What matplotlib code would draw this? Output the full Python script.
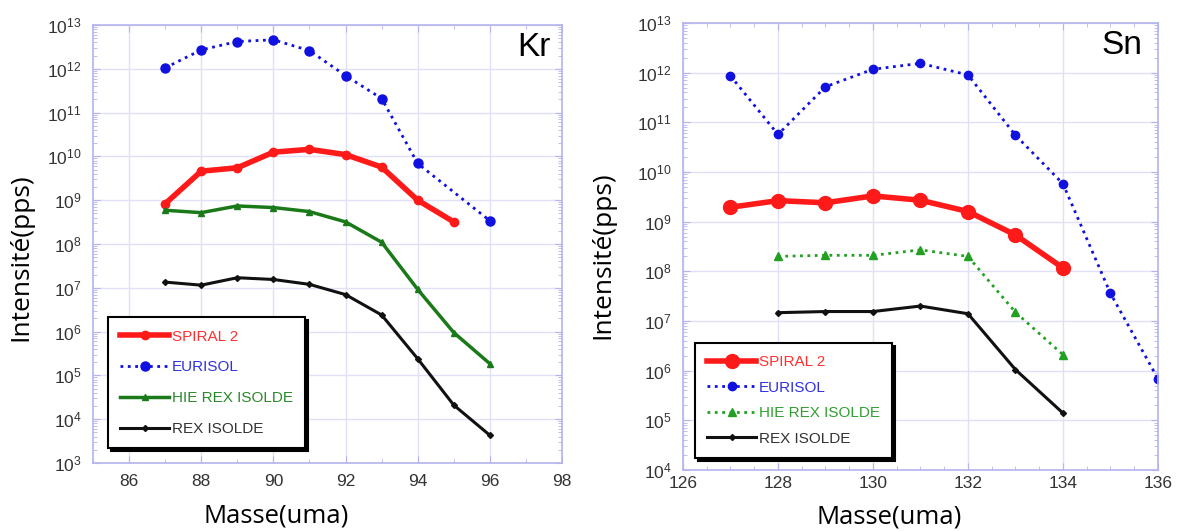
import matplotlib.pyplot as plt
import matplotlib.ticker as mticker
import numpy as np

plt.rcParams['font.family'] = ['Liberation Sans', 'DejaVu Sans']
plt.rcParams['mathtext.default'] = 'regular'

# Kr
kr_mass = [87, 88, 89, 90, 91, 92, 93, 94, 95, 96]
kr_spiral = [8.3e8, 4.6e9, 5.5e9, 1.25e10, 1.45e10, 1.1e10, 5.7e9, 1.0e9, 3.2e8]
kr_eurisol_mass = [87, 88, 89, 90, 91, 92, 93, 94, 96]
kr_eurisol = [1.05e12, 2.7e12, 4.2e12, 4.6e12, 2.6e12, 7.0e11, 2.1e11, 6.9e9, 3.4e8]
kr_hie = [5.9e8, 5.2e8, 7.4e8, 6.8e8, 5.5e8, 3.2e8, 1.1e8, 9.2e6, 9.5e5, 1.85e5]
kr_rex = [1.35e7, 1.15e7, 1.7e7, 1.55e7, 1.2e7, 7.0e6, 2.4e6, 2.4e5, 2.1e4, 4.3e3]

# Sn
sn_spiral_mass = [127, 128, 129, 130, 131, 132, 133, 134]
sn_spiral = [1.95e9, 2.65e9, 2.4e9, 3.3e9, 2.7e9, 1.6e9, 5.4e8, 1.17e8]
sn_eurisol_mass = [127, 128, 129, 130, 131, 132, 133, 134, 135, 136]
sn_eurisol = [8.6e11, 5.7e10, 5.2e11, 1.17e12, 1.54e12, 9.0e11, 5.5e10, 5.8e9, 3.6e7, 6.9e5]
sn_mass = [128, 129, 130, 131, 132, 133, 134]
sn_hie = [2.0e8, 2.1e8, 2.1e8, 2.7e8, 2.0e8, 1.5e7, 2.1e6]
sn_rex = [1.47e7, 1.55e7, 1.55e7, 2.0e7, 1.4e7, 1.05e6, 1.4e5]

labels = ['SPIRAL 2', 'EURISOL', 'HIE REX ISOLDE', 'REX ISOLDE']
colors = ['#ff1a1a', '#1010e0', '#1a7a1a', '#111111']
frame_col = '#b4b4ee'
grid_col = '#e0e0f6'
label_font = ['Open Sans', 'DejaVu Sans']

fig = plt.figure(figsize=(11.8, 5.31), dpi=100)
ax1 = fig.add_axes([0.0788, 0.128, 0.3975, 0.8249])
ax2 = fig.add_axes([0.5788, 0.1149, 0.4025, 0.8418])


def style(ax, xmin, xmax, xmajor, xminor, ymin, ymax, pad):
    ax.set_yscale('log')
    ax.set_xlim(xmin, xmax)
    ax.set_ylim(ymin, ymax)
    ax.xaxis.set_major_locator(mticker.MultipleLocator(xmajor))
    ax.xaxis.set_minor_locator(mticker.MultipleLocator(xminor))
    ax.yaxis.set_major_locator(mticker.LogLocator(base=10, numticks=20))
    ax.yaxis.set_minor_locator(mticker.LogLocator(base=10, subs=np.arange(2, 10), numticks=20))
    ax.yaxis.set_minor_formatter(mticker.NullFormatter())
    ax.grid(True, which='major', color=grid_col, lw=1.0)
    for s in ax.spines.values():
        s.set_color(frame_col)
        s.set_linewidth(1.2)
    ax.tick_params(which='both', direction='in', top=True, right=True, color=frame_col,
                   labelcolor='#333333', labelsize=12.5)
    ax.tick_params(axis='x', pad=pad)
    ax.tick_params(axis='y', pad=8)
    ax.tick_params(which='major', length=5)
    ax.tick_params(which='minor', length=3)
    ax.set_xlabel('Masse(uma)', fontsize=18.5, family=label_font)
    ax.set_ylabel('Intensité(pps)', fontsize=19, family=label_font)
    ax.xaxis.label.set_va('center')
    ax.yaxis.label.set_va('center')
    ax.set_axisbelow(True)


style(ax1, 85, 98, 2, 1, 1e3, 1e13, 8)
style(ax2, 126, 136, 2, 0.5, 1e4, 1e13, 4)
ax1.xaxis.set_label_coords(0.39, -0.121)
ax1.yaxis.set_label_coords(-0.154, 0.47)
ax2.xaxis.set_label_coords(0.434, -0.105)
ax2.yaxis.set_label_coords(-0.168, 0.48)

# Kr panel
ax1.plot(kr_mass[:9], kr_spiral, color=colors[0], lw=4, marker='o', ms=6, label=labels[0])
ax1.plot(kr_eurisol_mass, kr_eurisol, color=colors[1], lw=2, ls=':', marker='o', ms=6.5, label=labels[1])
ax1.plot(kr_mass, kr_hie, color=colors[2], lw=2.5, marker='^', ms=5, label=labels[2])
ax1.plot(kr_mass, kr_rex, color=colors[3], lw=2.2, marker='D', ms=3, label=labels[3])
ax1.text(0.975, 0.985, 'Kr', transform=ax1.transAxes, ha='right', va='top', fontsize=24)

# Sn panel
ax2.plot(sn_spiral_mass, sn_spiral, color=colors[0], lw=4, marker='o', ms=10, label=labels[0])
ax2.plot(sn_eurisol_mass, sn_eurisol, color=colors[1], lw=2, ls=':', marker='o', ms=6, label=labels[1])
ax2.plot(sn_mass, sn_hie, color='#22a022', lw=2, ls=':', marker='^', ms=6, label=labels[2])
ax2.plot(sn_mass, sn_rex, color=colors[3], lw=2.2, marker='D', ms=3, label=labels[3])
ax2.text(0.968, 0.985, 'Sn', transform=ax2.transAxes, ha='right', va='top', fontsize=24)

leg_colors1 = ['#ff3030', '#3030e0', '#2a8a2a', '#333333']
leg_colors2 = ['#ff3030', '#3030e0', '#30a030', '#333333']
for ax, lc, anchor, spacing in [(ax1, leg_colors1, (0.032, 0.034), 1.1),
                                (ax2, leg_colors2, (0.025, 0.027), 0.75)]:
    leg = ax.legend(loc='lower left', bbox_to_anchor=anchor, borderaxespad=0, fontsize=11,
                    handlelength=3.2, handletextpad=0.2, labelspacing=spacing, borderpad=0.8,
                    fancybox=False, shadow={'color': 'black', 'alpha': 1.0}, framealpha=1,
                    edgecolor='black')
    leg.get_frame().set_linewidth(1.5)
    for t, c in zip(leg.get_texts(), lc):
        t.set_color(c)

fig.savefig('out.png', dpi=100)
